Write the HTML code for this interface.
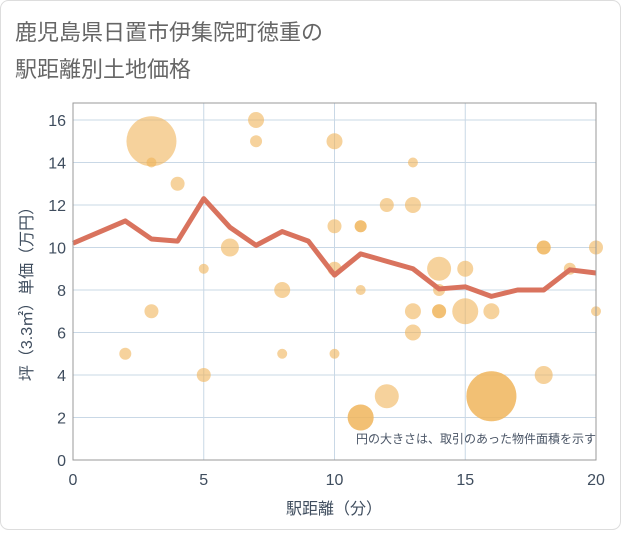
<!DOCTYPE html>
<html><head><meta charset="utf-8"><style>
body{margin:0;background:#fff;font-family:"Liberation Sans","Noto Sans CJK JP",sans-serif}
</style></head><body>
<svg id="c" width="621" height="530" xmlns="http://www.w3.org/2000/svg">
<rect x="0.5" y="0.5" width="620" height="529" rx="8" fill="#fff" stroke="#ddd"/>
<text x="15" y="40" font-size="22" fill="#666">鹿児島県日置市伊集院町徳重の</text>
<text x="15" y="77" font-size="22" fill="#666">駅距離別土地価格</text>
<g id="grid"></g><g id="bubbles"></g><g id="line"></g><g id="axes"></g>
<text x="596" y="443" font-size="12" fill="#4a5566" text-anchor="end">円の大きさは、取引のあった物件面積を示す</text>
<text x="334" y="514" font-size="16" fill="#3f4d5e" text-anchor="middle">駅距離（分）</text>
<text transform="translate(32,290) rotate(-90)" font-size="16" fill="#3f4d5e" text-anchor="middle">坪（3.3㎡）単価（万円）</text>
</svg>
<script>
const xTicks=[0,5,10,15,20];
const yTicks=[0,2,4,6,8,10,12,14,16];
const bx=[2,3,3,3,4,5,5,6,7,7,8,8,10,10,10,10,11,11,11,12,12,13,13,13,13,14,14,14,15,15,16,16,18,18,19,20,20,11,11,14,16,18];
const by=[5,15,14,7,13,9,4,10,16,15,8,5,15,11,9,5,11,8,2,12,3,14,12,7,6,9,8,7,9,7,7,3,10,4,9,10,7,11,2,7,3,10];
const br=[6,25,5,7,7,5,7,9,8,6,8,5,8,7,7,5,6,5,13,7,12,5,8,8,8,12,6,7,8,13,8,25,7,9,6,7,5,6,13,7,25,7];
const lx=[0,2,3,4,5,6,7,8,9,10,11,13,14,15,16,17,18,19,20];
const ly=[10.2,11.25,10.4,10.3,12.3,10.95,10.1,10.75,10.3,8.7,9.7,9.0,8.05,8.15,7.7,8.0,8.0,8.95,8.8];
const X=v=>73+v*(523/20), Y=v=>460-v*(340/16);
const NS="http://www.w3.org/2000/svg";
function mk(p,t,a){const e=document.createElementNS(NS,t);for(const k in a)e.setAttribute(k,a[k]);p.appendChild(e);return e;}
const g=document.getElementById('grid'),ax=document.getElementById('axes');
yTicks.forEach(v=>{const l=mk(g,'line',{x1:73,x2:596,y1:Y(v),y2:Y(v),stroke:'#c9d8e6','stroke-width':1});

const t=mk(ax,'text',{x:66,y:Y(v)+6,'font-size':16,fill:'#3f4d5e','text-anchor':'end'});t.textContent=v;
});
xTicks.forEach(v=>{const l=mk(g,'line',{y1:103,y2:460,x1:X(v),x2:X(v),stroke:'#c9d8e6','stroke-width':1});

const t=mk(ax,'text',{x:X(v),y:485,'font-size':16,fill:'#3f4d5e','text-anchor':'middle'});t.textContent=v;
});
const fr=mk(ax,'rect',{x:73,y:103,width:523,height:357,fill:'none',stroke:'#999','stroke-width':1});

const b=document.getElementById('bubbles');
bx.forEach((v,i)=>{const c=mk(b,'circle',{cx:X(v),cy:Y(by[i]),r:br[i],fill:'rgba(240,180,90,0.6)'});
});
const p=mk(document.getElementById('line'),'polyline',{points:lx.map((v,i)=>X(v)+','+Y(ly[i])).join(' '),fill:'none',stroke:'#d9735e','stroke-width':5,'stroke-linejoin':'round'});

</script>
</body></html>
